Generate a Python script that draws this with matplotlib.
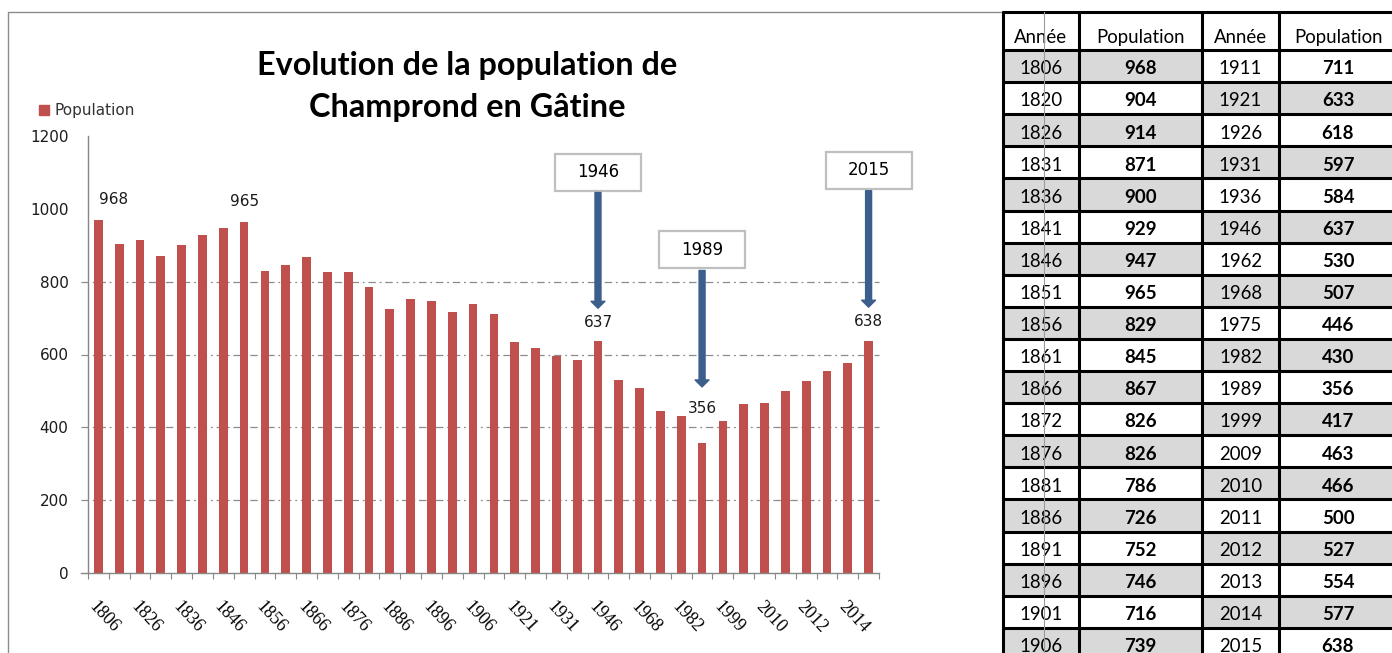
import matplotlib
matplotlib.use("Agg")
import matplotlib.pyplot as plt
from matplotlib.patches import Rectangle, FancyArrowPatch
import numpy as np

# ---------------- data ----------------
years = ["1806", "1820", "1826", "1831", "1836", "1841", "1846", "1851", "1856", "1861",
         "1866", "1872", "1876", "1881", "1886", "1891", "1896", "1901", "1906", "1911",
         "1921", "1926", "1931", "1936", "1946", "1962", "1968", "1975", "1982", "1989",
         "1999", "2009", "2010", "2011", "2012", "2013", "2014", "2015"]
population = [968, 904, 914, 871, 900, 929, 947, 965, 829, 845,
              867, 826, 826, 786, 726, 752, 746, 716, 739, 711,
              633, 618, 597, 584, 637, 530, 507, 446, 430, 356,
              417, 463, 466, 500, 527, 554, 577, 638]
y_ticks = [0, 200, 400, 600, 800, 1000, 1200]
grid_values = [200, 400, 600, 800]
labeled_years = ["1806", "1851", "1946", "1989", "2015"]
callout_years = ["1946", "1989", "2015"]
title_lines = ["Evolution de la population de", "Champrond en Gâtine"]
series_name = "Population"
table_headers = ["Année", "Population", "Année", "Population"]

# ---------------- figure ----------------
W, H = 1392, 653
fig = plt.figure(figsize=(W / 100, H / 100), dpi=100)
fig.patch.set_facecolor("white")
bg = fig.add_axes([0, 0, 1, 1])
bg.set_xlim(0, W)
bg.set_ylim(H, 0)
bg.axis("off")
renderer = fig.canvas.get_renderer()

def fit(txt, target_px):
    w = txt.get_window_extent(renderer).width
    txt.set_fontsize(txt.get_fontsize() * target_px / w)
    return txt.get_fontsize()

BAR = "#c0504d"
GRAY = "#868686"
TXT = "#1a1a1a"

# chart frame
bg.plot([8, 8, 1003], [H + 5, 12, 12], color="#8c8c8c", lw=1)

# ---------------- bar chart ----------------
ax_l, ax_r, ax_t, ax_b = 88, 879, 136, 573
ax = fig.add_axes([ax_l / W, (H - ax_b) / H, (ax_r - ax_l) / W, (ax_b - ax_t) / H])
ax.patch.set_alpha(0)
x = np.arange(len(years))
ax.bar(x, population, width=0.42, color=BAR, zorder=3)
ax.set_xlim(-0.5, len(years) - 0.5)
ax.set_ylim(0, 1200)

for s in ["top", "right", "bottom"]:
    ax.spines[s].set_visible(False)
ax.spines["left"].set_color(GRAY)
ax.spines["left"].set_linewidth(1)

ext = -7 / (ax_r - ax_l)
ax.axhline(0, xmin=ext, xmax=1, color=GRAY, lw=1, clip_on=False, zorder=4)
for v in grid_values:
    ax.axhline(v, xmin=ext, xmax=1, color="#8c8c8c", lw=0.9,
               ls=(0, (6, 3, 1.5, 3)), clip_on=False, zorder=1)

ax.set_yticks(y_ticks)
ax.set_yticklabels([str(v) for v in y_ticks])
ax.tick_params(axis="y", length=0, pad=14, labelsize=11, labelcolor=TXT)

ax.set_xticks(x[::2])
ax.set_xticklabels(years[::2])
ax.set_xticks(np.arange(-0.5, len(years), 1), minor=True)
ax.tick_params(axis="x", which="major", length=0, pad=18)
ax.tick_params(axis="x", which="minor", length=4.3, width=0.8, color=GRAY)
for lbl in ax.get_xticklabels():
    lbl.set_rotation(-47)
    lbl.set_ha("left")
    lbl.set_va("top")
    lbl.set_rotation_mode("anchor")
    lbl.set_family("Liberation Serif")
    lbl.set_fontsize(13)
    lbl.set_color("black")

# data labels (offsets in pixels)
label_offsets = {"1806": (15, 21), "1851": (0, 20), "1946": (0, 19),
                 "1989": (0, 35), "2015": (0, 19)}
for yr in labeled_years:
    i = years.index(yr)
    dx, dy = label_offsets[yr]
    ax.annotate(str(population[i]), (i, population[i]), xytext=(dx * 0.72, dy * 0.72),
                textcoords="offset points", ha="center", va="center",
                fontsize=11, color=TXT, zorder=6)

# callouts: box centre y and arrow tip y in data units
callout_layout = {"1946": (1101, 727), "1989": (887, 511), "2015": (1106, 730)}
px_x = (ax_r - ax_l) / len(years)
px_y = (ax_b - ax_t) / 1200
bw, bh = 86 / px_x, 37 / px_y
for yr in callout_years:
    i = years.index(yr)
    by, tip = callout_layout[yr]
    ax.add_patch(Rectangle((i - bw / 2, by - bh / 2), bw, bh, facecolor="white",
                           edgecolor="#bfbfbf", lw=1.6, zorder=7, clip_on=False))
    ax.text(i, by, yr, ha="center", va="center", fontsize=12, color="black", zorder=8)
    start = by - bh / 2 - 2 / px_y
    ax.add_patch(FancyArrowPatch((i, start), (i, tip),
                                 arrowstyle="simple,head_length=0.5,head_width=1.0,tail_width=0.43",
                                 mutation_scale=10, color="#3b5e8c", shrinkA=0, shrinkB=0,
                                 zorder=7, clip_on=False))

# title
t1 = bg.text(467, 75, title_lines[0], ha="center", va="baseline",
             fontfamily="Lato", fontweight="bold", fontsize=20, color="black")
fs = fit(t1, 420)
bg.text(467, 117, title_lines[1], ha="center", va="baseline",
        fontfamily="Lato", fontweight="bold", fontsize=fs, color="black")

# legend
bg.add_patch(Rectangle((39, 105), 10, 10, color=BAR))
bg.text(54, 110, series_name, ha="left", va="center", fontsize=11, color="#333333")

# ---------------- table ----------------
col_edges = [1003, 1079, 1202, 1279, 1397]
head_top, head_bot, row_h = 12, 50, 32.1
nrows = len(years) // 2
SHADE = "#d9d9d9"

hdr = bg.text((col_edges[1] + col_edges[2]) / 2, 43, table_headers[1], ha="center",
              va="baseline", fontfamily="Lato", fontsize=14, color="black", zorder=5)
tfs = fit(hdr, 89)
for c, h in enumerate(table_headers):
    if c == 1:
        continue
    bg.text((col_edges[c] + col_edges[c + 1]) / 2, 43, h, ha="center", va="baseline",
            fontfamily="Lato", fontsize=tfs, color="black", zorder=5)

for r in range(nrows):
    top = head_bot + r * row_h
    cy = top + row_h / 2
    if r % 2 == 0:
        bg.add_patch(Rectangle((col_edges[0], top), col_edges[2] - col_edges[0], row_h,
                               color=SHADE, zorder=1))
    else:
        bg.add_patch(Rectangle((col_edges[2], top), col_edges[4] - col_edges[2], row_h,
                               color=SHADE, zorder=1))
    for half in range(2):
        k = r + half * nrows
        c0 = half * 2
        bg.text((col_edges[c0] + col_edges[c0 + 1]) / 2, cy + 8.3, years[k],
                ha="center", va="baseline", fontfamily="Lato", fontsize=tfs,
                color="black", zorder=5)
        bg.text((col_edges[c0 + 1] + col_edges[c0 + 2]) / 2, cy + 8.3, str(population[k]),
                ha="center", va="baseline", fontfamily="Lato", fontweight="bold",
                fontsize=tfs, color="black", zorder=5)

bottom = head_bot + nrows * row_h
for yy in [head_top, head_bot] + [head_bot + r * row_h for r in range(1, nrows + 1)]:
    bg.plot([col_edges[0] - 1, col_edges[-1] + 1], [yy, yy], color="black", lw=2.2,
            zorder=3, solid_capstyle="butt")
for xx in col_edges:
    bg.plot([xx, xx], [head_top - 1, bottom], color="black", lw=2.2, zorder=3,
            solid_capstyle="butt")
bg.plot([1044, 1044], [head_top, H + 5], color="#9a9a9a", lw=0.8, zorder=6)

fig.savefig("out.png", dpi=100, facecolor="white")
